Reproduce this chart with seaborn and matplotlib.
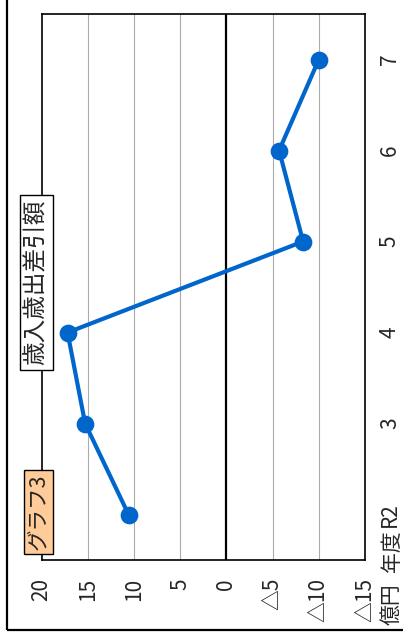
import matplotlib
matplotlib.use('Agg')
import matplotlib.pyplot as plt
import matplotlib.patches as patches
import seaborn as sns

years = ['R2', '3', '4', '5', '6', '7']
values = [10.6, 15.3, 17.2, -8.3, -5.7, -10.0]
x_ticks = [20, 15, 10, 5, 0, -5, -10, -15]
x_labels = ['20', '15', '10', '5', '0', '△5', '△10', '△15']

sns.set_style('white')
plt.rcParams['font.family'] = ['Noto Sans CJK JP', 'DejaVu Sans']

fig = plt.figure(figsize=(4.03, 6.44), dpi=100)
ax = fig.add_axes([41.7/403, 1-560/644, (365-41.7)/403, (560-14)/644])

# grid first so the line sits on top
for v in x_ticks[1:-1]:
    if v == 0:
        ax.axvline(v, color='black', lw=1.6, zorder=1)
    else:
        ax.axvline(v, color='#ababab', lw=0.8, zorder=1)

sns.pointplot(x=values, y=years, order=years[::-1], orient='y', color='#0066cc',
              markersize=10.5, linewidth=3, errorbar=None, ax=ax, zorder=3)

ax.set_xlim(20, -15)
ax.set_ylim(5.5, -0.5)
ax.set_xticks(x_ticks, x_labels, rotation=90, va='top', ha='center')
ax.tick_params(axis='x', length=0, pad=13, labelsize=15)
ax.yaxis.tick_right()
ax.tick_params(axis='y', length=0, pad=10, labelsize=15, labelrotation=90)
for lab in ax.get_yticklabels():
    lab.set_va('center')
ax.set_xlabel('')
ax.set_ylabel('')
for s in ax.spines.values():
    s.set_color('black')
    s.set_linewidth(1.2)

# unit labels
fig.text(392/403, 1-604/644, '億円', rotation=90, ha='center', va='center', fontsize=15)
fig.text(392/403, 1-551/644, '年度', rotation=90, ha='center', va='center', fontsize=15)

# title boxes
fig.text(36.5/403, 1-282.5/644, '歳入歳出差引額', rotation=90, ha='center', va='center',
         fontsize=17, bbox=dict(boxstyle='square,pad=0.22', fc='white', ec='black', lw=1))
fig.text(38.5/403, 1-512/644, 'グラフ3', rotation=90, ha='center', va='center',
         fontsize=15.5, bbox=dict(boxstyle='square,pad=0.18', fc='#ffcc99', ec='black', lw=1))

# outer frame
fig.patches.append(patches.Rectangle((7/403, 1-630/644), 1.2, 1.2, transform=fig.transFigure,
                                     fill=False, ec='black', lw=1.6))

fig.savefig('out.png', dpi=100)
